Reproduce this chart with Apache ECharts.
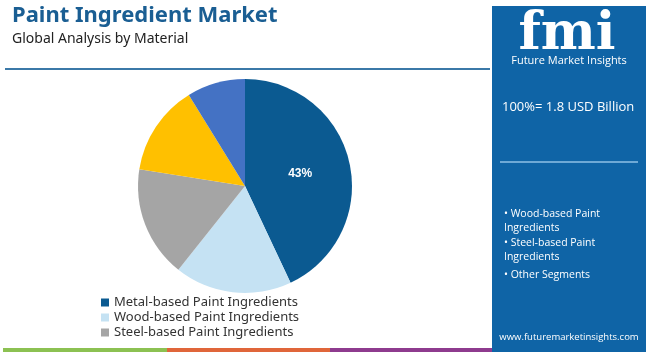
<!DOCTYPE html>
<html>
<head>
<meta charset="utf-8">
<script src="https://cdn.jsdelivr.net/npm/echarts@6/dist/echarts.min.js"></script>
<style>
  html, body { margin: 0; padding: 0; background: #fff; }
  #chart { width: 650px; height: 352px; }
</style>
</head>
<body>
<div id="chart"></div>
<script>
'use strict';

var categories = [
  "Metal-based Paint Ingredients",
  "Wood-based Paint Ingredients",
  "Steel-based Paint Ingredients",
  "Aluminium-based Paint Ingredients",
  "Other Segments"
];
var shares = [43, 17.7, 16.8, 13.7, 8.8];
var sliceColors = ["#0b5a91", "#c5e2f3", "#a5a5a5", "#ffc000", "#4472c4"];
var legendItems = categories.slice(0, 3);
var sideBullets = ["• Wood-based Paint", "Ingredients", "• Steel-based Paint", "Ingredients", "• Other Segments"];

var chart = echarts.init(document.getElementById('chart'));

var pieData = categories.map(function (name, i) {
  return {
    name: name,
    value: shares[i],
    itemStyle: { color: sliceColors[i] },
    label: { show: i === 0 }
  };
});

var panel = [
  { type: 'rect', shape: { x: 492, y: 6, width: 154, height: 346 }, style: { fill: '#0f64a6' } },
  { type: 'text', style: { x: 567, y: 35, text: 'fmi', fill: '#fff', font: 'bold 52px "DejaVu Serif"', align: 'center', verticalAlign: 'middle' } },
  { type: 'text', style: { x: 569, y: 61, text: 'Future Market Insights', fill: '#fff', font: '11px "Open Sans"', align: 'center', verticalAlign: 'middle' } },
  { type: 'text', style: { x: 502, y: 107, text: '100%= 1.8 USD Billion', fill: '#fff', font: '13px "Open Sans"', verticalAlign: 'middle' } },
  { type: 'line', shape: { x1: 500, y1: 162, x2: 638, y2: 162 }, style: { stroke: '#8fc0e6', lineWidth: 1.5 } },
  { type: 'text', style: { x: 569, y: 337, text: 'www.futuremarketinsights.com', fill: '#fff', font: '9.5px "Open Sans"', align: 'center', verticalAlign: 'middle' } }
];
var bulletY = [214, 228, 243, 257, 275];
sideBullets.forEach(function (t, i) {
  panel.push({ type: 'text', style: { x: 504, y: bulletY[i], text: t, fill: '#fff', font: '10.5px "Open Sans"', verticalAlign: 'middle' } });
});

var frame = [
  { type: 'text', style: { x: 12, y: 16, text: 'Paint Ingredient Market', fill: '#1a5e93', font: 'bold 22px "Noto Sans"', verticalAlign: 'middle' } },
  { type: 'text', style: { x: 12, y: 39, text: 'Global Analysis by Material', fill: '#222', font: '14px "Noto Sans"', verticalAlign: 'middle' } },
  { type: 'line', shape: { x1: 5, y1: 69, x2: 490, y2: 69 }, style: { stroke: '#3b79a8', lineWidth: 2 } },
  { type: 'rect', shape: { x: 3, y: 348, width: 164, height: 4 }, style: { fill: '#8cc152' } },
  { type: 'rect', shape: { x: 167, y: 348, width: 163, height: 4 }, style: { fill: '#e0663a' } },
  { type: 'rect', shape: { x: 330, y: 348, width: 162, height: 4 }, style: { fill: '#8e3b8e' } }
];

var option = {
  animation: false,
  legend: {
    data: legendItems,
    orient: 'vertical',
    left: 96,
    top: 291,
    itemWidth: 8,
    itemHeight: 8,
    itemGap: 2,
    icon: 'rect',
    textStyle: { fontSize: 13, color: '#333', fontFamily: 'Noto Sans' }
  },
  graphic: frame.concat(panel),
  series: [{
    type: 'pie',
    center: [245, 186],
    radius: 107,
    startAngle: 90,
    clockwise: true,
    data: pieData,
    label: {
      position: 'inside',
      formatter: '{d}%',
      color: '#fff',
      fontWeight: 'bold',
      fontSize: 12,
      fontFamily: 'Arial'
    },
    labelLine: { show: false },
    emphasis: { disabled: true }
  }]
};

chart.setOption(option);
</script>
</body>
</html>
